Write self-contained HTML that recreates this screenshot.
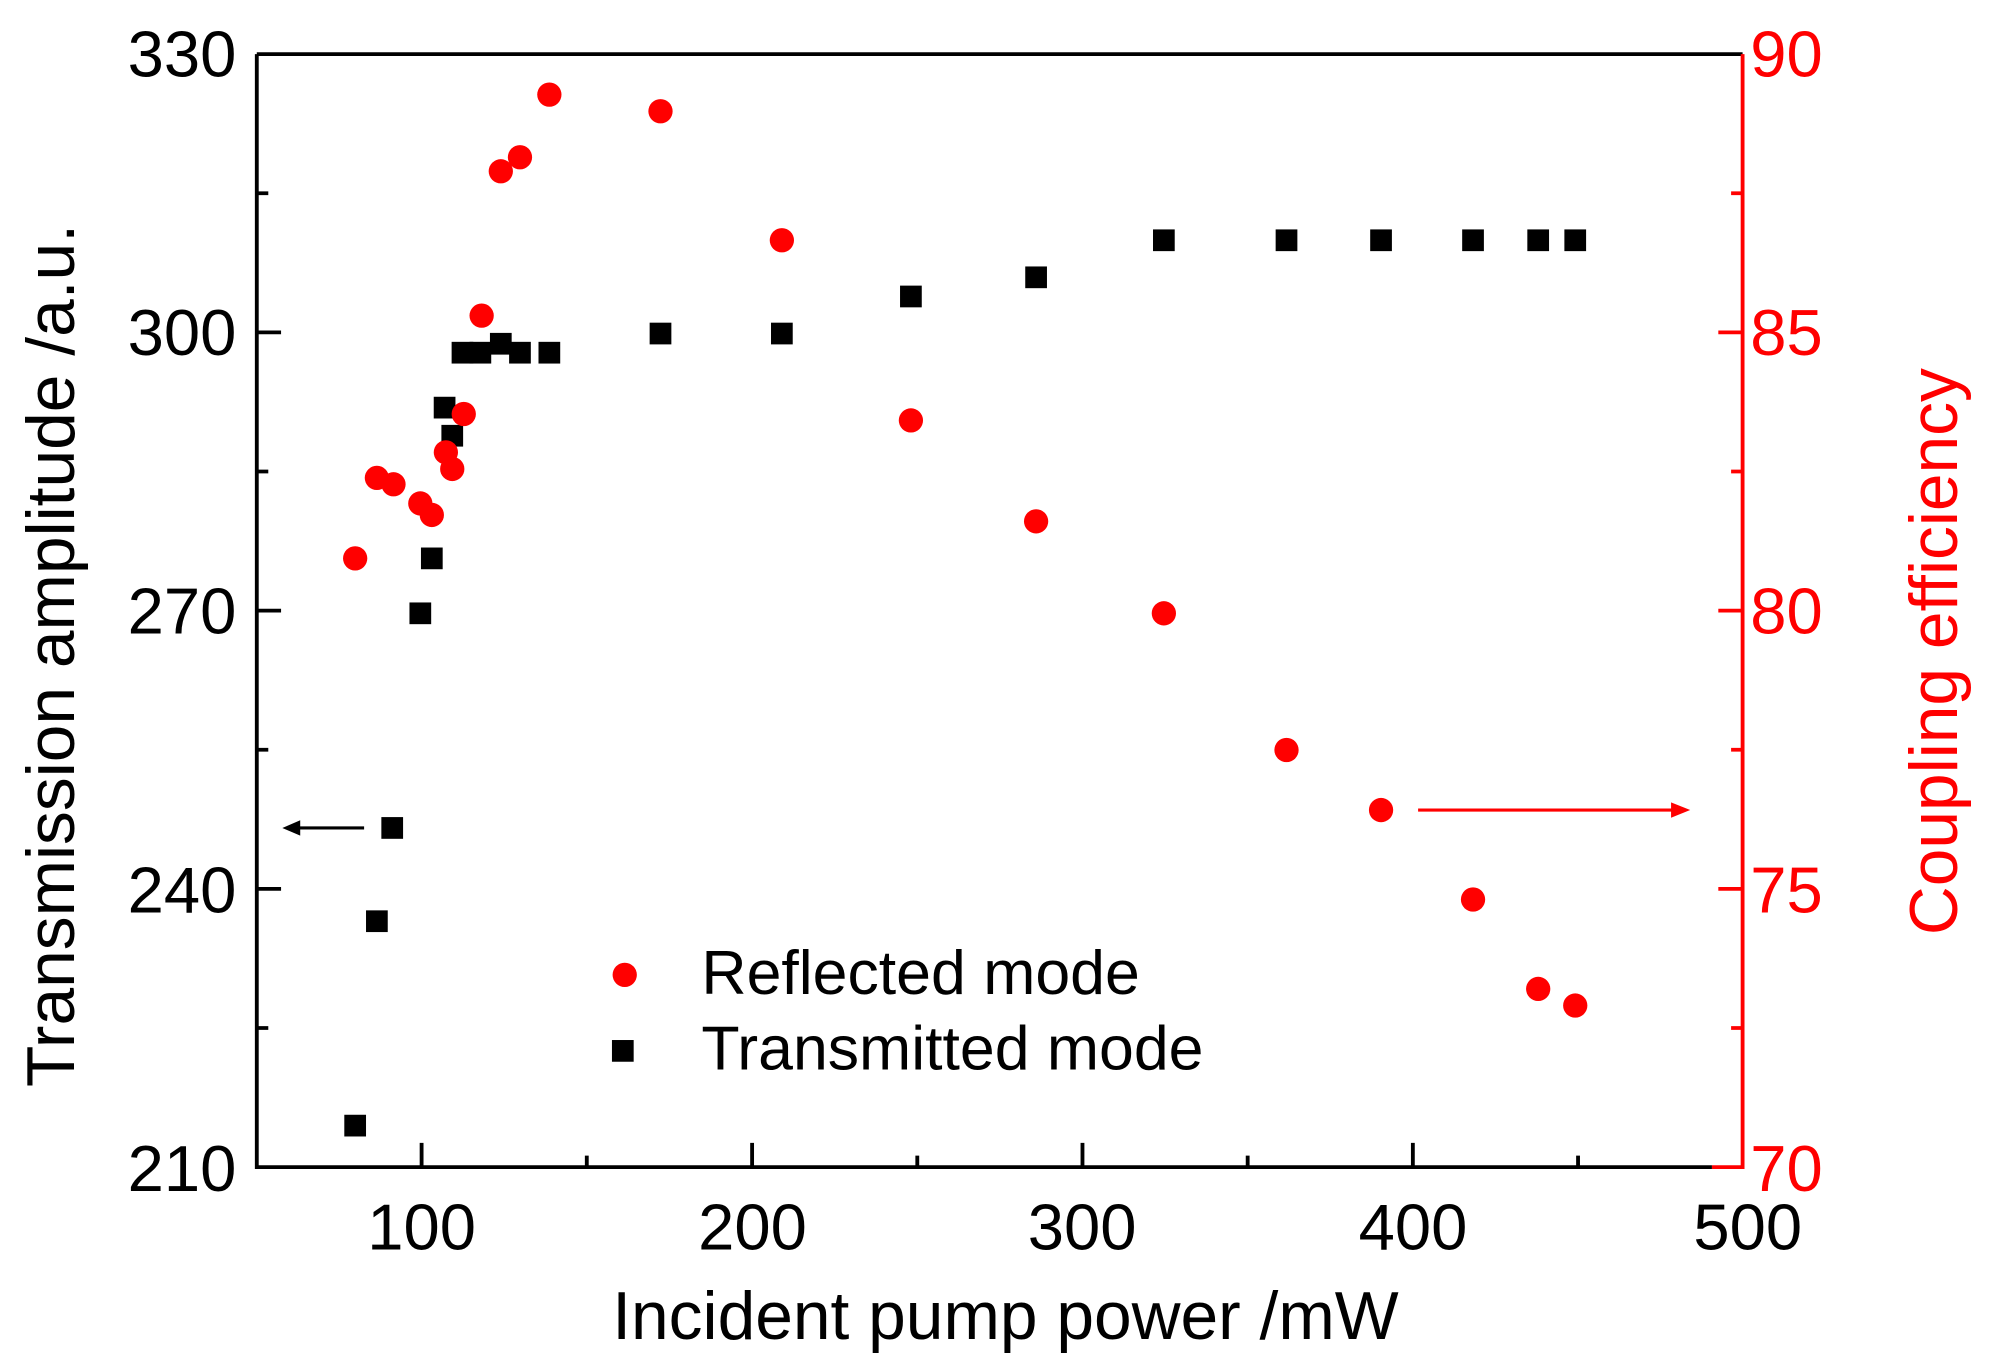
<!DOCTYPE html>
<html><head><meta charset="utf-8"><style>html,body{margin:0;padding:0;background:#fff}svg{display:block}</style></head>
<body>
<svg width="1993" height="1371" viewBox="0 0 1560 1073" xmlns="http://www.w3.org/2000/svg" font-family="Liberation Sans, Arial, sans-serif">
<rect width="1560" height="1073" fill="#fff"/>
<path d="M201,42.3 H1364 M201,42.3 V913.5 H1340" stroke="#000" stroke-width="3" fill="none"/>
<path d="M1364,42.3 V913.5 H1340" stroke="#f00" stroke-width="3" fill="none"/>
<g stroke="#000" stroke-width="3">
<path d="M201,260.1 h19 M201,477.9 h19 M201,695.7 h19 M201,151.2 h9 M201,369 h9 M201,586.8 h9 M201,804.6 h9"/>
<path d="M330,913.5 v-19 M588.7,913.5 v-19 M847.3,913.5 v-19 M1105.9,913.5 v-19 M459.3,913.5 v-9 M718,913.5 v-9 M976.6,913.5 v-9 M1235.2,913.5 v-9"/>
</g>
<g stroke="#f00" stroke-width="3">
<path d="M1364,260.1 h-19 M1364,477.9 h-19 M1364,695.7 h-19 M1364,151.2 h-9 M1364,369 h-9 M1364,586.8 h-9 M1364,804.6 h-9"/>
</g>
<g font-size="51" fill="#000" text-anchor="end">
<text x="185" y="60">330</text><text x="185" y="278">300</text><text x="185" y="496">270</text><text x="185" y="714">240</text><text x="185" y="932">210</text>
</g>
<g font-size="51" fill="#000" text-anchor="middle">
<text x="330" y="978">100</text><text x="589" y="978">200</text><text x="847" y="978">300</text><text x="1106" y="978">400</text><text x="1368" y="978">500</text>
</g>
<g font-size="51" fill="#f00" text-anchor="start">
<text x="1370" y="60">90</text><text x="1370" y="278">85</text><text x="1370" y="496">80</text><text x="1370" y="714">75</text><text x="1370" y="932">70</text>
</g>
<text x="787" y="1048" font-size="53" text-anchor="middle" fill="#000">Incident pump power /mW</text>
<text transform="translate(58,513) rotate(-90)" font-size="53" text-anchor="middle" fill="#000">Transmission amplitude /a.u.</text>
<text transform="translate(1532,510) rotate(-90)" font-size="53" text-anchor="middle" fill="#f00">Coupling efficiency</text>
<g fill="#000">
<rect x="269.5" y="872.5" width="17" height="17"/><rect x="286.5" y="712.5" width="17" height="17"/><rect x="298.5" y="639.5" width="17" height="17"/><rect x="320.5" y="471.5" width="17" height="17"/><rect x="329.5" y="428.5" width="17" height="17"/><rect x="339.5" y="310.5" width="17" height="17"/><rect x="345.5" y="332.5" width="17" height="17"/><rect x="353.5" y="267.5" width="17" height="17"/><rect x="367.5" y="267.5" width="17" height="17"/><rect x="383.5" y="260.5" width="17" height="17"/><rect x="398.5" y="267.5" width="17" height="17"/><rect x="421.5" y="267.5" width="17" height="17"/><rect x="508.5" y="252.5" width="17" height="17"/><rect x="603.5" y="252.5" width="17" height="17"/><rect x="704.5" y="223.5" width="17" height="17"/><rect x="802.5" y="208.5" width="17" height="17"/><rect x="902.5" y="179.5" width="17" height="17"/><rect x="998.5" y="179.5" width="17" height="17"/><rect x="1072.5" y="179.5" width="17" height="17"/><rect x="1144.5" y="179.5" width="17" height="17"/><rect x="1195.5" y="179.5" width="17" height="17"/><rect x="1224.5" y="179.5" width="17" height="17"/>
</g>
<g fill="#f00">
<circle cx="278" cy="437" r="9.5"/><circle cx="295" cy="374" r="9.5"/><circle cx="308" cy="379" r="9.5"/><circle cx="329" cy="394" r="9.5"/><circle cx="338" cy="403" r="9.5"/><circle cx="349" cy="354" r="9.5"/><circle cx="354" cy="367" r="9.5"/><circle cx="363" cy="324" r="9.5"/><circle cx="377" cy="247" r="9.5"/><circle cx="392" cy="134" r="9.5"/><circle cx="407" cy="123" r="9.5"/><circle cx="430" cy="74" r="9.5"/><circle cx="517" cy="87" r="9.5"/><circle cx="612" cy="188" r="9.5"/><circle cx="713" cy="329" r="9.5"/><circle cx="811" cy="408" r="9.5"/><circle cx="911" cy="480" r="9.5"/><circle cx="1007" cy="587" r="9.5"/><circle cx="1081" cy="634" r="9.5"/><circle cx="1153" cy="704" r="9.5"/><circle cx="1204" cy="774" r="9.5"/><circle cx="1233" cy="787" r="9.5"/>
</g>
<path d="M285,648 H232" stroke="#000" stroke-width="2.5"/>
<polygon points="221,648 235,642 235,654" fill="#000"/>
<path d="M1110,634 H1310" stroke="#f00" stroke-width="2.5"/>
<polygon points="1323,634 1308,628 1308,640" fill="#f00"/>
<circle cx="489" cy="763" r="9.5" fill="#f00"/>
<text x="549" y="778" font-size="49" fill="#000">Reflected mode</text>
<rect x="479" y="814" width="17" height="17" fill="#000"/>
<text x="549" y="837" font-size="49" fill="#000">Transmitted mode</text>
</svg>
</body></html>
